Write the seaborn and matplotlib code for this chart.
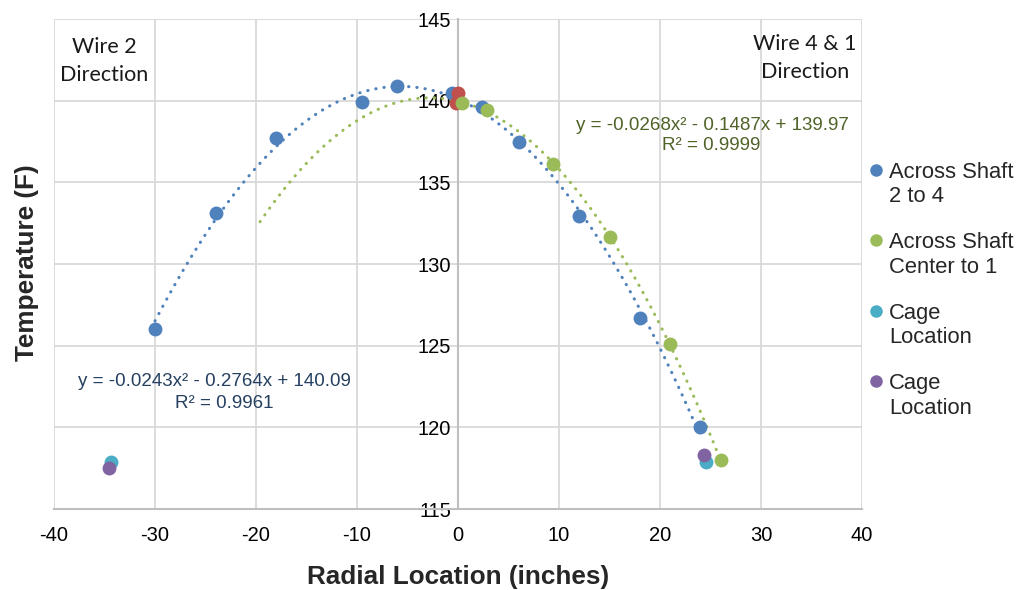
import numpy as np
import pandas as pd
import matplotlib
matplotlib.use("Agg")
import matplotlib.pyplot as plt
import seaborn as sns
from matplotlib.lines import Line2D

# ---- data ----
blue_x = [-30, -24, -18, -9.5, -6, -0.6, 2.4, 6, 12, 18, 24]
blue_y = [126.0, 133.1, 137.7, 139.9, 140.9, 140.5, 139.6, 137.5, 132.95, 126.7, 120.0]
red_x = [0.0, -0.2]
red_y = [140.45, 139.85]
green_x = [0.4, 2.9, 9.4, 15.0, 21.0, 26.0]
green_y = [139.85, 139.4, 136.1, 131.65, 125.1, 118.0]
cage1_x = [-34.4, 24.6]
cage1_y = [117.9, 117.9]
cage2_x = [-34.6, 24.4]
cage2_y = [117.5, 118.3]

blue_coef = [-0.0243, -0.2764, 140.09]
green_coef = [-0.0268, -0.1487, 139.97]
blue_trend_range = [-30, 24]
green_trend_range = [-19.6, 26]

x_ticks = [-40, -30, -20, -10, 0, 10, 20, 30, 40]
y_ticks = [115, 120, 125, 130, 135, 140, 145]

labels = ["Across Shaft\n2 to 4", "Across Shaft\nCenter to 1", "Cage\nLocation", "Cage\nLocation"]

c_blue = "#4F81BD"
c_red = "#C0504D"
c_green = "#9BBB59"
c_cyan = "#4BACC6"
c_purple = "#8064A2"

sns.set_style("white")
plt.rcParams["font.family"] = ["Liberation Sans", "DejaVu Sans"]
plt.rcParams["axes.unicode_minus"] = False

fig = plt.figure(figsize=(10.21, 5.90), dpi=100)
ax = fig.add_axes([54/1021, 1-509/590, 808/1021, 490/590])

# trendlines
for coef, rng, col in [(blue_coef, blue_trend_range, c_blue), (green_coef, green_trend_range, c_green)]:
    xs = np.linspace(rng[0], rng[1], 300)
    ys = np.polyval(coef, xs)
    ax.plot(xs, ys, color=col, lw=2.2, linestyle=(0, (0.1, 2.6)),
            dash_capstyle="round", zorder=2)

ms = 100
sns.scatterplot(x=blue_x, y=blue_y, color=c_blue, s=ms, linewidth=0, ax=ax, zorder=3)
sns.scatterplot(x=red_x, y=red_y, color=c_red, s=ms, linewidth=0, ax=ax, zorder=3)
sns.scatterplot(x=green_x, y=green_y, color=c_green, s=ms, linewidth=0, ax=ax, zorder=3)
sns.scatterplot(x=cage1_x, y=cage1_y, color=c_cyan, s=ms, linewidth=0, ax=ax, zorder=3)
sns.scatterplot(x=cage2_x, y=cage2_y, color=c_purple, s=ms, linewidth=0, ax=ax, zorder=3)

ax.set_xlim(-40, 40)
ax.set_ylim(115, 145)
ax.set_xticks(x_ticks)
ax.set_yticks(y_ticks)
ax.grid(True, color="#D9D9D9", lw=1.3)
ax.set_axisbelow(True)

for s in ["top", "right"]:
    ax.spines[s].set_visible(False)
ax.spines["left"].set_position(("data", 0))
ax.spines["left"].set_color("#BFBFBF")
ax.spines["bottom"].set_color("#BFBFBF")
ax.spines["left"].set_linewidth(1.5)
ax.spines["bottom"].set_linewidth(1.5)
ax.spines["left"].set_zorder(1)

ax.tick_params(axis="both", length=0, labelsize=14.5, colors="black")
ax.tick_params(axis="x", pad=12)
ax.tick_params(axis="y", pad=5)

ax.set_xlabel("Radial Location (inches)", fontsize=18.8, fontweight="bold", va="center")
ax.xaxis.set_label_coords(0.5, (509-577)/490)
ax.set_ylabel("Temperature (F)", fontsize=18.8, fontweight="bold", va="center")
ax.yaxis.set_label_coords((27-54)/808, (509-263)/490)

# trendline equations
ax.text((214-54)/808, (509-381)/490, "y = -0.0243x² - 0.2764x + 140.09", transform=ax.transAxes,
        ha="center", va="center", fontsize=13.5, color="#254061")
ax.text((224-54)/808, (509-404)/490, "R² = 0.9961", transform=ax.transAxes,
        ha="center", va="center", fontsize=13.5, color="#254061")
ax.text((712-54)/808, (509-126)/490, "y = -0.0268x² - 0.1487x + 139.97", transform=ax.transAxes,
        ha="center", va="center", fontsize=13.5, color="#4F6228")
ax.text((711-54)/808, (509-146)/490, "R² = 0.9999", transform=ax.transAxes,
        ha="center", va="center", fontsize=13.5, color="#4F6228")

# direction labels
ax.text((104-54)/808, (509-61)/490, "Wire 2\nDirection", transform=ax.transAxes,
        ha="center", va="center", fontsize=15.5, family=["Lato", "DejaVu Sans"],
        linespacing=1.5, color="#1a1a1a")
ax.text((805-54)/808, (509-58)/490, "Wire 4 & 1\nDirection", transform=ax.transAxes,
        ha="center", va="center", fontsize=15.5, family=["Lato", "DejaVu Sans"],
        linespacing=1.5, color="#1a1a1a")

# legend
handles = [Line2D([], [], marker="o", linestyle="", markersize=9, color=c, markeredgewidth=0)
           for c in [c_blue, c_green, c_cyan, c_purple]]
leg = fig.legend(handles, labels, loc="upper left", bbox_to_anchor=(865/1021, 1-162/590),
                 frameon=False, fontsize=15.8, handletextpad=0.1, handlelength=1.0,
                 labelspacing=1.15, borderpad=0, borderaxespad=0)
for col in leg._legend_handle_box.get_children():
    for item in col.get_children():
        item.align = "top"

fig.savefig("out.png", dpi=100)
